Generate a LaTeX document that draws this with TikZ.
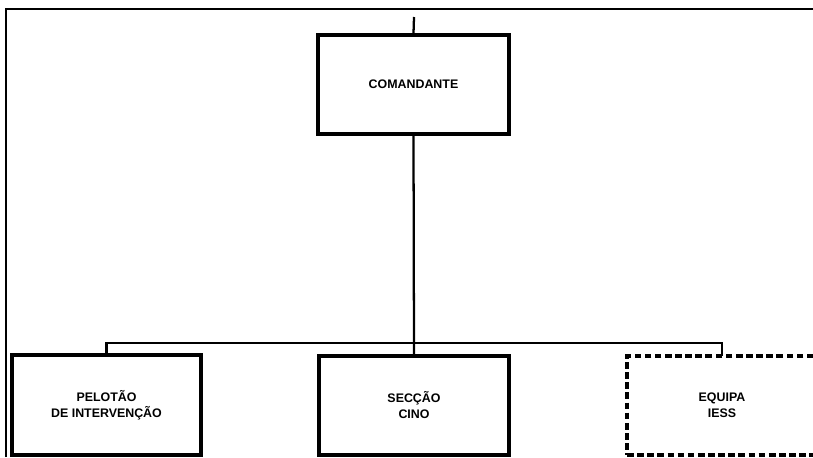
\documentclass[tikz,border=0pt]{standalone}
\usepackage{fontspec}
\setmainfont{Liberation Sans}
\begin{document}
\begin{tikzpicture}[x=0.75pt,y=-0.75pt,
  unit box/.style={draw, line width=2.4pt, inner sep=0pt, align=center,
    font=\fontsize{9.3}{12}\selectfont\bfseries},
  unit text/.style={inner sep=0pt, align=center, font=\fontsize{9.3}{12}\selectfont\bfseries},
  link/.style={line width=1.7pt},
  frame/.style={line width=2.2pt}]
\useasboundingbox (0,0) rectangle (813,457);
\fill[white] (0,0) rectangle (813,457);
\draw[frame] (6,457) -- (6,9) -- (813,9);
\node[unit box, minimum width=191*0.75pt, minimum height=99*0.75pt] (cmd) at (413.5,84.5) {COMANDANTE};
\node[unit box, minimum width=189*0.75pt, minimum height=100*0.75pt] (pel) at (106.5,405) {PELOTÃO\\DE INTERVENÇÃO};
\node[unit box, minimum width=190*0.75pt, minimum height=99*0.75pt] (sec) at (414,405.5) {SECÇÃO\\CINO};
\node[unit box, dash pattern=on 5pt off 2.6pt, minimum width=216*0.75pt, minimum height=99*0.75pt] (eq) at (735,405.5) {};
\node[unit text] (eqt) at (722,405.5) {EQUIPA\\IESS};
\coordinate (top) at (414,17);
\coordinate (bar) at (414,343);
\coordinate (eqn) at (722,356);
\draw[link] (top) -- (cmd.north);
\draw[link] (cmd.south) -- (sec.north);
\draw[link] (pel.north) |- (bar) -| (eqn);
\end{tikzpicture}
\end{document}
